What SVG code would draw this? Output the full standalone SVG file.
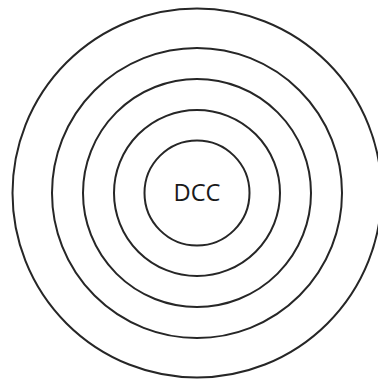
<svg xmlns="http://www.w3.org/2000/svg" width="378" height="380" viewBox="0 0 378 380">
<style>
.ring{fill:none;stroke:#262626;stroke-width:2}
.lbl{font-family:"Open Sans","Liberation Sans",sans-serif;font-size:24.5px;fill:#1a1a1a;text-anchor:middle}
</style>
<rect width="378" height="380" fill="#ffffff"/>
<g id="ring5"><circle class="ring" cx="197" cy="193" r="184.5"/></g>
<g id="ring4"><circle class="ring" cx="197" cy="193" r="145"/></g>
<g id="ring3"><circle class="ring" cx="197" cy="193" r="114"/></g>
<g id="ring2"><circle class="ring" cx="197" cy="193" r="83"/></g>
<g id="dcc"><circle class="ring" cx="197" cy="193" r="52.5"/>
<text class="lbl" x="197" y="201" textLength="47" lengthAdjust="spacingAndGlyphs">DCC</text></g>
<g id="connectors"></g>
</svg>
